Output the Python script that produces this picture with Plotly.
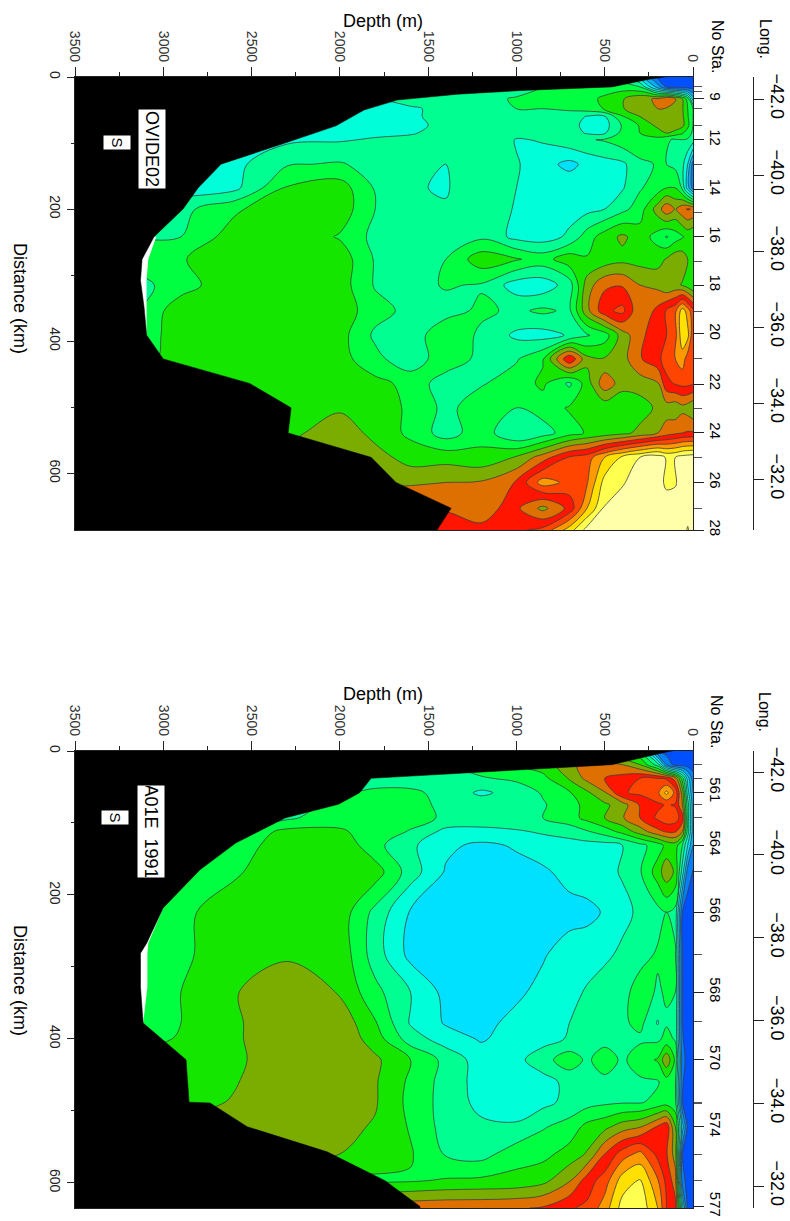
import plotly.graph_objects as go

W, H = 790, 1221

depth_levels = [0,30,60,100,150,200,300,400,500,600,700,850,1000,1200,1400,1600,1800,2000,2300,2600,2900,3200]

# --- OVIDE02 section -------------------------------------------------------
ov_dist = [0,15,33,48,60,73,85,95,132,168,200,242,276,315,354,391,427,464,501,539,576,614,653,686]
ov_s = [
 [0,0,0,0,0,0.2,3,5,6,6,6,5,5,5,5,5,5,5,5,5,5,5],
 [0,0,0,0,0.4,2,5.5,6,6,6,6,5.5,5,5,5,5,5,5,5,4,4,4],
 [3,6,7.5,8.6,9.5,8.6,8.3,7.4,6.7,6.2,6,5.8,5.6,5.2,5.3,4.8,4.5,4.5,4.5,4.5,4.5,4.5],
 [5.5,6.5,7.6,8.2,8.4,8.5,8.3,7.4,6.6,6,5.6,5.5,5.5,5.5,4.7,4.4,4.4,3.5,3,3,3,3],
 [5.5,6.6,7.7,8.3,8.5,8.2,7.5,6.4,4.4,4.4,5.2,5.4,5.5,5.5,4.7,4.4,4.4,3.2,3,3,3,3],
 [5.5,6.8,7.8,8.4,8.5,7.8,6.6,5.6,4.1,4.1,5,5.4,5.5,5.4,4.7,4.3,4.2,4,3.6,3.5,3.5,3.5],
 [5.3,6,6.6,7,7.5,7,6.5,5.8,4.4,4.4,5,5.3,5.4,5.4,4.9,4.4,4.3,4.1,3.2,3.5,3.5,3.5],
 [5,5.4,5.5,5.4,5.6,6.2,6.5,6.1,5.6,5.4,5.2,4.6,4.4,5.4,5.2,4.8,4.6,4.4,4.3,4.5,4.5,4.5],
 [1,3.5,4.8,5.2,5.5,5.6,5.2,4.3,4.1,3.8,3.2,3.9,4.6,5.3,4.5,4.6,5.1,5.6,5.4,4.2,4,4],
 [1,3,5.3,6.5,6.5,6,5.4,4.4,4.1,4,4.2,4.2,4.5,5.3,4.4,4.6,5.4,7,6.6,4.2,4,4],
 [9.4,9.6,9.2,8.4,9.2,8,6,5.2,4.5,4.2,4.1,4.2,4.4,5.2,4.6,4.8,5.5,7.1,7.3,6.3,5.2,5],
 [6.5,6.8,6.4,6,5.4,6.1,7,7.7,7,6,4.7,4,4.2,5.3,5.3,5.2,5.2,6.4,7.3,7,5.5,5.5],
 [6.8,7.5,8.1,8.2,7.6,7.1,7.1,7.2,6.9,6.6,7.1,6.1,6.6,7.1,5.5,5.2,5.4,7.1,7.3,7.3,6.4,6],
 [6.5,7,7.4,7.8,7.6,8.2,8.5,9.4,9.3,8,5,3.9,4,5.4,5.6,5.1,5.4,7,7.3,7.3,6,5],
 [10.8,12,13,11.3,10.6,9.8,8.6,10.8,10.2,8.2,5.3,5.7,5.3,5.7,5.1,5.2,5.9,7.1,7.4,7.4,7.2,5],
 [10.8,12.8,13.2,11.2,10.5,10.2,9.2,8,6,5.4,4.6,4.1,4.3,5.3,6.3,4.9,5.3,6.9,7.4,7.4,7.1,5.5],
 [10.5,11,12,11.5,11,10.2,9.4,8.1,7.6,7.8,10.4,6.4,5.4,5.2,6.2,4.8,5.8,6.9,7.2,7.4,6.9,6],
 [10.6,10.8,10.8,10.6,10.2,8.4,8,8,9.2,7,5.3,6.7,6,5.4,4.9,6.2,6.8,7.1,7.2,7,7,7],
 [7.6,8,8.2,7.8,8,7.7,7,6.5,6.8,7,6.6,6,5.5,6.1,5.2,6.4,6.8,7.3,7.2,7.2,7,7],
 [9.6,9.6,9.5,9.3,9,8.5,7.8,7.2,6.9,6.6,6.1,5,4.5,6.1,5,6.3,7.1,8.3,7.1,7.1,7,7],
 [15.1,15,14.9,14.5,14.4,15,14.5,13.7,12.5,11,10.6,9,7.6,6.8,7.1,7,8,8,8,8,8,8],
 [15,15,15,14.4,14.3,14.9,15,14.4,13.9,11.4,11.2,12,9.6,8.6,8.5,8.4,8.4,8.4,8.4,8.4,8.4,8.4],
 [15,15,15,15,15,15,15,15,14.6,12.5,9.8,8.2,9.7,9.3,9.3,9.2,9,9,9,9,9,9],
 [15,14.4,15,15,15,15,15,15,15,14.9,13,10.8,10.3,9.6,10.5,10.5,10,10,10,10,10,10],
]
ov_bottom_depth = [0,240,459,934,1331,1676,1863,2022,2310,2673,2803,2888,3052,3120,3129,3109,3094,3000,2511,2276,2293,1823,1682,1370,1450,1450]
ov_bottom_dist  = [-6,3,15,20,26,35,50,74,100,132,168,200,242,276,308,348,391,427,464,501,539,576,614,653,686,700]
ov_limit_depth = [3040,3085,3095,3095,3094]
ov_limit_dist  = [242,276,308,345,391]
ov_major_dist = [33,95,170,242,315,389,465,539,614,686]
ov_major_sta  = ["9","12","14","16","18","20","22","24","26","28"]
ov_minor_dist = [15,22,48,73,132,205,280,355,427,502,576,653]
ov_range = 686

# --- A01E 1991 section -----------------------------------------------------
a1_dist = [0,19,38,58,75,93,112,131,168,224,283,335,378,400,429,460,488,522,560,597,635]
a1_s = [
 [0,0,0,0,0,0.3,5.5,6,6,6,6,6,6,6,6,6,6,6,6,6,6,6],
 [0,0,0,0,1.5,5,7.5,8.5,9,9.2,8,7,6.5,6,5.5,5,5,5,5,5,5,5],
 [1,3,6,9,10.3,10.5,10.5,9.9,9.5,8.8,7.6,6.2,5.7,5.4,5.2,5,4.8,4.8,4.8,4.8,4.8,4.8],
 [1.5,4,8,11.2,12.8,11.3,10.7,10.4,8.4,7.3,6.4,5.6,4.9,4.3,5.2,5.7,5.8,5.3,5,5,5,5],
 [2,5,8.5,10.4,10.6,10.3,9.6,8,7.3,6.8,6.1,5.4,5,5.1,5.3,5.8,6.2,5.8,5,5,5,5],
 [2,5,10,11,11.2,10.7,9.5,8.4,7.5,6.8,6.1,5.5,5.1,5.1,5.3,6,6.2,6.2,5.3,5,5,5],
 [2,5,8.5,9.6,9.6,9.2,8,6.8,6,5.4,4.9,4.6,4.4,4.2,4.2,5.4,6.2,6.6,6.8,5.6,5,5],
 [1.5,3.5,5.5,7,6.8,6,5.2,4.5,4.1,4.1,4.1,4.1,3.6,3.3,3.7,4.7,5.8,7.3,7.2,5.8,5,5],
 [0.4,1,4,7.3,8.2,7,5.4,4.6,4.2,4.1,3.9,3.3,3.2,3.2,3.4,5,7,7.3,7.4,6.3,5.3,5],
 [0,0,0.5,5.2,5.5,5.2,4.7,4.2,3.6,3.2,3.1,3.1,3.1,3.1,3.1,3.4,5.2,7.1,7.3,7.2,6.2,5.5],
 [0,0,0.5,5.6,5.8,5.6,5.2,4.7,4.3,4.1,4,3.4,3.2,3.2,3.2,3.2,5,7.2,7.3,7.4,6.2,5.5],
 [0,0,0.5,5.5,5.6,5.4,5.9,5.2,5,4.6,4.2,3.8,3.3,3.2,3.2,4.5,5.8,7.4,8.4,7.4,6.5,5.5],
 [0,0,0.5,5.3,5.4,4.4,5.8,5.3,5.1,4.9,4.5,4,3.8,3.2,3.4,4.4,6.6,8.2,8.4,7.3,6.5,5.5],
 [0,0,0.6,5.4,5.8,5.3,5.3,5.2,5.1,5,4.6,4.1,3.9,3.4,4,5,7,8.3,8.4,7.3,6.6,6],
 [0,0,1,6.3,8.3,6.6,6.1,5.3,6.1,5.3,6.1,5.1,4.2,4,5.2,6.5,7.7,8.4,8.4,7.2,7,7],
 [0,0,0.6,5.6,6,5.4,5.3,5.3,5.2,5.1,4.8,4.1,4,4.1,5.1,6.3,7.6,8.3,8.4,7.4,7,7],
 [0,0,0.5,5.8,6,5.8,5.4,5.4,5.3,5.1,4.8,4.2,4.1,4.2,5.1,6.2,7.6,8.3,8.4,7.6,7,7],
 [0,0.2,3,7.5,10.2,9.6,8.4,8,7.2,6.8,5.9,5.4,4.6,4.7,5.1,6.4,7.4,7.8,8.3,8.3,8,8],
 [0,0,0.5,8,9.6,10.2,11.8,11,9.5,7.6,6.9,6.2,6.1,5.1,5.4,6.6,7.1,7.5,8,8,8,8],
 [0,0,1,9,10.2,11.6,13.6,13,11,10,8.4,7.2,6.8,6.7,6.6,6.4,6.3,6,6,6,6,6],
 [0,0.3,4,9.8,10.5,12.5,14.2,13.9,12,10.7,10.4,9.6,9.4,9.3,9.3,9.2,9,9,9,9,9,9],
]
a1_bottom_depth = [0,181,459,1823,1888,2007,2310,2590,2792,3001,3094,3129,3129,3114,2871,2854,2735,2525,2072,1744,1546,1546]
a1_bottom_dist  = [-6,3,19,38,58,74,93,128,165,218,267,281,328,378,429,488,489,522,557,597,633,650]
a1_limit_depth = [3001,3085,3090,3090,3114]
a1_limit_dist  = [218,267,281,328,378]
a1_major_dist = [57,131,224,335,429,522,633]
a1_major_sta  = ["561","564","566","568","570","574","577"]
a1_minor_dist = [19,38,75,93,168,283,376,488,490,560,597]
a1_range = 635

lon_ticks = [-42,-40,-38,-36,-34,-32]
lon_labels = ["\u221242.0","\u221240.0","\u221238.0","\u221236.0","\u221234.0","\u221232.0"]

band_colors = ["#0050FF","#0080FF","#00B0FF","#00E0FF","#00FFD8","#00FF90","#00FF40","#14E600",
               "#7AAD00","#DD7000","#FF1500","#FF4500","#FF9900","#FFE000","#FFFF50","#FFFFAA"]
n = len(band_colors)
cscale = []
for i, c in enumerate(band_colors):
    cscale += [[i/n, c], [(i+1)/n, c]]

INK = "#222222"
FONT = "Liberation Sans"
fig = go.Figure()

panels = [
    dict(top=77, bot=530, dist=ov_dist, s=ov_s, bd=ov_bottom_depth, bk=ov_bottom_dist, ld=ov_limit_depth, lk=ov_limit_dist,
         maj=ov_major_dist, sta=ov_major_sta, mnr=ov_minor_dist, rng=ov_range, lon=[-42.58,-30.66],
         name="OVIDE02", boxy=149, boxh=78, sy=142, depth_y=21, nosta_y=46, long_y=39, dist_y=298, boxx=152, sx=117, dticks=[0,200,400,600]),
    dict(top=751, bot=1208, dist=a1_dist, s=a1_s, bd=a1_bottom_depth, bk=a1_bottom_dist, ld=a1_limit_depth, lk=a1_limit_dist,
         maj=a1_major_dist, sta=a1_major_sta, mnr=a1_minor_dist, rng=a1_range, lon=[-42.51,-31.47],
         name="A01E  1991", boxy=831, boxh=91, sy=817, depth_y=694, nosta_y=721, long_y=712, dist_y=980, boxx=151, sx=115, dticks=[0,200,400,600]),
]

layout = {}
annots = []
def px(x): return x/W
def py(y): return 1-y/H

for i, p in enumerate(panels):
    xn = "x" if i == 0 else "x2"
    ids = [1,2,3] if i == 0 else [4,5,6]
    yn = "y" if i == 0 else "y4"
    ysta = f"y{ids[1]}"
    ylon = f"y{ids[2]}"
    dom = [py(p["bot"]), py(p["top"])]

    fig.add_trace(go.Contour(x=depth_levels, y=p["dist"], z=p["s"], xaxis=xn, yaxis=yn,
        zmin=-0.5, zmax=n-0.5, autocontour=False, colorscale=cscale, showscale=False,
        contours=dict(start=0.5, end=n-1.5, size=1, coloring="fill"),
        line=dict(color="#3c3c3c", width=0.8, smoothing=1), hoverinfo="skip"))
    lim_x = list(p["ld"]) + [3500, 3500]
    lim_y = list(p["lk"]) + [p["lk"][-1], p["lk"][0]]
    fig.add_trace(go.Scatter(x=lim_x, y=lim_y, xaxis=xn, yaxis=yn, mode="lines", fill="toself",
        fillcolor="white", line=dict(width=0), hoverinfo="skip"))
    fx = list(p["bd"]) + [3600, 3600]
    fy = list(p["bk"]) + [p["bk"][-1], p["bk"][0]]
    fig.add_trace(go.Scatter(x=fx, y=fy, xaxis=xn, yaxis=yn, mode="lines", fill="toself",
        fillcolor="black", line=dict(color="black", width=0.5), hoverinfo="skip"))
    fig.add_trace(go.Scatter(x=[0]*len(p["maj"]), y=p["maj"], xaxis=xn, yaxis=ysta, mode="markers",
        marker=dict(size=1, opacity=0), hoverinfo="skip"))
    fig.add_trace(go.Scatter(x=[0]*len(lon_ticks), y=lon_ticks, xaxis=xn, yaxis=ylon, mode="markers",
        marker=dict(size=1, opacity=0), hoverinfo="skip"))

    xkey = "xaxis" if i == 0 else "xaxis2"
    layout[xkey] = dict(domain=[px(75), px(693)], range=[3500, 0], side="top", anchor=yn,
        tickmode="array", tickvals=[0,500,1000,1500,2000,2500,3000,3500], tickangle=90,
        ticks="outside", ticklen=9, tickwidth=1, tickcolor=INK, showgrid=False, zeroline=False,
        showline=True, linecolor=INK, linewidth=1.2, mirror=True,
        tickfont=dict(size=14, family=FONT, color="#333333"),
        minor=dict(tickmode="array", tickvals=[250,750,1250,1750,2250,2750,3250], ticks="outside", ticklen=4, tickcolor=INK, showgrid=False))
    ykey = "yaxis" if i == 0 else "yaxis4"
    layout[ykey] = dict(domain=dom, range=[p["rng"], 0], anchor=xn, side="left",
        tickmode="array", tickvals=p["dticks"], tickangle=90, ticks="outside", ticklen=7, tickcolor=INK,
        showgrid=False, zeroline=False, showline=True, linecolor=INK, linewidth=1,
        tickfont=dict(size=14, family=FONT, color=INK),
        minor=dict(tickmode="array", tickvals=[100,300,500], ticks="outside", ticklen=3, tickcolor=INK, showgrid=False))
    layout[f"yaxis{ids[1]}"] = dict(domain=dom, range=[p["rng"], 0], overlaying=yn, anchor=xn, side="right",
        tickmode="array", tickvals=p["maj"], ticktext=p["sta"], tickangle=90, ticks="outside", ticklen=10, tickcolor=INK,
        showgrid=False, zeroline=False, showline=True, linecolor=INK, linewidth=1.2,
        tickfont=dict(size=15, family=FONT, color="black"),
        minor=dict(tickmode="array", tickvals=p["mnr"], ticks="outside", ticklen=8, tickcolor="#555555", showgrid=False))
    layout[f"yaxis{ids[2]}"] = dict(domain=dom, range=[p["lon"][1], p["lon"][0]], overlaying=yn, anchor="free",
        position=px(753), side="right", tickmode="array", tickvals=lon_ticks, ticktext=lon_labels, tickangle=90,
        ticks="outside", ticklen=10, tickcolor=INK, showgrid=False, zeroline=False, showline=True,
        linecolor=INK, linewidth=1.2, tickfont=dict(size=18, family=FONT, color="black"))

    def note(text, x, y, size=13, angle=90, **kw):
        annots.append(dict(text=text, x=px(x), y=py(y), xref="paper", yref="paper", showarrow=False,
                           textangle=angle, xanchor="center", yanchor="middle",
                           font=dict(size=size, family=FONT, color="black"), **kw))
    note("Depth (m)", 383, p["depth_y"], size=18, angle=0)
    note("No Sta.", 717, p["nosta_y"], size=16)
    note("Long.", 765, p["long_y"], size=16)
    note("Distance (km)", 20, p["dist_y"], size=18)
    note(p["name"], p["boxx"], p["boxy"], size=18, bgcolor="white", width=p["boxh"], height=26, borderpad=0)
    note("S", p["sx"], p["sy"], size=15, bgcolor="white", width=13, height=26, borderpad=0)

fig.update_layout(width=W, height=H, margin=dict(l=0, r=0, t=0, b=0, autoexpand=False), paper_bgcolor="white", plot_bgcolor="white",
                  showlegend=False, annotations=annots, **layout)
fig.write_html("out.html", config={"displayModeBar": False}, post_script="document.body.style.margin='0';")
